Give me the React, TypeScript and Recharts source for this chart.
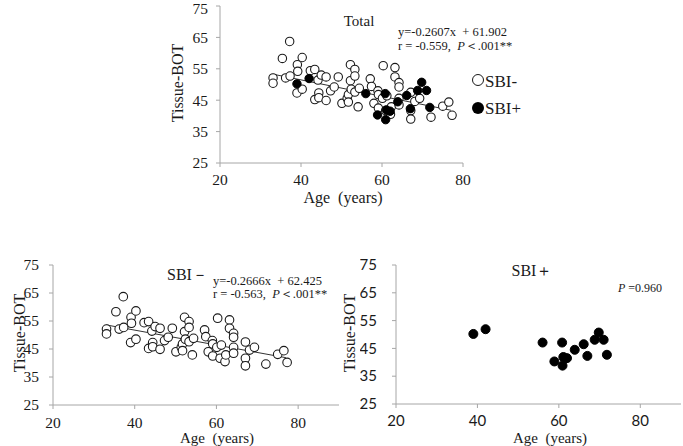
import React from 'react';
import { ScatterChart, Scatter, XAxis, YAxis } from 'recharts';

// SBI- subjects (age, tissue-BOT)
const sbiNegAge = [33.1, 33.1, 35.4, 37.2, 36.2, 37.3, 39.1, 39.2, 39.0, 40.3, 40.3, 42.3, 43.4, 43.4, 44.2, 44.4, 44.4, 45.0, 46.2, 46.2, 47.3, 48.2, 49.2, 50.1, 51.4, 51.7, 51.7, 52.2, 52.2, 52.4, 53.3, 53.3, 53.3, 54.1, 54.4, 57.1, 57.4, 58.0, 59.0, 59.1, 59.1, 60.3, 60.1, 61.2, 60.9, 62.1, 62.3, 63.2, 63.2, 64.2, 64.2, 64.2, 64.2, 67.1, 67.1, 67.1, 68.1, 69.3, 72.1, 75.0, 76.5, 77.3];
const sbiNegBot = [52.1, 50.4, 58.3, 63.7, 52.1, 52.7, 56.3, 54.2, 47.3, 58.6, 48.5, 54.4, 54.8, 45.2, 51.4, 47.3, 45.8, 53.0, 52.4, 44.9, 48.0, 49.2, 52.4, 44.0, 45.6, 46.8, 44.4, 56.3, 51.2, 48.5, 54.8, 52.7, 47.6, 42.9, 48.8, 51.8, 49.4, 44.0, 48.0, 46.8, 42.5, 56.0, 45.6, 46.4, 41.7, 40.5, 42.9, 55.4, 52.4, 50.6, 49.2, 45.6, 43.5, 47.5, 41.7, 39.0, 44.6, 45.6, 39.6, 43.1, 44.4, 40.2];

// SBI+ subjects
const sbiPosAge = [39.0, 42.0, 56.0, 58.9, 60.8, 60.9, 61.1, 62.0, 63.9, 66.1, 67.0, 68.8, 69.8, 71.0, 71.8];
const sbiPosBot = [50.2, 51.9, 47.1, 40.3, 47.1, 38.8, 41.9, 41.5, 44.5, 46.5, 42.3, 48.1, 50.7, 48.1, 42.7];

// regression line end points
const totalFitAge = [33, 77];
const totalFitBot = [53.3, 41.8];
const negFitAge = [33, 77];
const negFitBot = [53.6, 41.9];

const xTicks = [20, 40, 60, 80];
const yTicks = [25, 35, 45, 55, 65, 75];

const toPoints = (xs: number[], ys: number[]) => xs.map((x, i) => ({ age: x, bot: ys[i] }));

const negPoints = toPoints(sbiNegAge, sbiNegBot);
const posPoints = toPoints(sbiPosAge, sbiPosBot);
const totalFit = toPoints(totalFitAge, totalFitBot);
const negFit = toPoints(negFitAge, negFitBot);

const SERIF = 'Liberation Serif, Times New Roman, serif';
const SANS = 'Lato, Liberation Sans, sans-serif';
const AXIS = '#a6a6a6';
const INK = '#1a1a1a';

const openDot = (r: number) => (p: any) => (
  <circle cx={p.cx} cy={p.cy} r={r} fill="#fff" stroke={INK} strokeWidth={1.1} />
);
const solidDot = (r: number) => (p: any) => (
  <circle cx={p.cx} cy={p.cy} r={r} fill="#000" stroke="#000" strokeWidth={1} />
);
const noDot = () => <g />;

// tick text with an explicit font
function AxisTick(props: any) {
  const { x, y, payload, family, size, side } = props;
  const isX = side === 'x';
  return (
    <text
      x={x}
      y={isX ? y + size * 0.75 : y + size * 0.35}
      textAnchor={isX ? 'middle' : 'end'}
      fill={INK}
      style={{ fontFamily: family, fontSize: size }}
    >
      {payload.value}
    </text>
  );
}

function Txt({ x, y, size, children, anchor = 'start', rotate = false, family = SERIF }: any) {
  const tx = anchor === 'middle' ? '-50%' : '0';
  return (
    <div
      style={{
        position: 'absolute',
        left: x,
        top: y,
        fontFamily: family,
        fontSize: size,
        lineHeight: 1,
        whiteSpace: 'nowrap',
        color: INK,
        transform: `translate(${tx}, -50%)${rotate ? ' rotate(-90deg)' : ''}`,
      }}
    >
      {children}
    </div>
  );
}

export default function App() {
  return (
    <div style={{ position: 'absolute', left: 0, top: 0, width: 683, height: 446, background: '#fff', overflow: 'hidden' }}>
      {/* Total */}
      <div style={{ position: 'absolute', left: 0, top: 0 }}>
        <ScatterChart width={683} height={210} margin={{ top: 6, right: 220, left: 0, bottom: 0 }}>
          <XAxis
            type="number"
            dataKey="age"
            domain={[20, 80]}
            ticks={xTicks}
            height={47}
            stroke={AXIS}
            tickSize={4}
            tickMargin={6}
            tick={<AxisTick family={SERIF} size={15.5} side="x" />}
          />
          <YAxis
            type="number"
            dataKey="bot"
            domain={[25, 75]}
            ticks={yTicks}
            width={220}
            stroke={AXIS}
            tickSize={4}
            tickMargin={8}
            tick={<AxisTick family={SERIF} size={15.5} side="y" />}
          />
          <Scatter data={totalFit} line={{ stroke: '#333', strokeWidth: 1 }} shape={noDot} isAnimationActive={false} />
          <Scatter data={negPoints} shape={openDot(4.2)} isAnimationActive={false} />
          <Scatter data={posPoints} shape={solidDot(4.2)} isAnimationActive={false} />
        </ScatterChart>
      </div>

      {/* SBI- */}
      <div style={{ position: 'absolute', left: 0, top: 250 }}>
        <ScatterChart width={360} height={196} margin={{ top: 15, right: 21, left: 0, bottom: 0 }}>
          <XAxis
            type="number"
            dataKey="age"
            domain={[20, 90]}
            ticks={xTicks}
            height={41}
            stroke={AXIS}
            tickSize={4}
            tickMargin={7}
            tick={<AxisTick family={SERIF} size={15.5} side="x" />}
          />
          <YAxis
            type="number"
            dataKey="bot"
            domain={[25, 75]}
            ticks={yTicks}
            width={53}
            stroke={AXIS}
            tickSize={4}
            tickMargin={10}
            tick={<AxisTick family={SERIF} size={15.5} side="y" />}
          />
          <Scatter data={negFit} line={{ stroke: '#333', strokeWidth: 1 }} shape={noDot} isAnimationActive={false} />
          <Scatter data={negPoints} shape={openDot(4.3)} isAnimationActive={false} />
        </ScatterChart>
      </div>

      {/* SBI+ */}
      <div style={{ position: 'absolute', left: 360, top: 250 }}>
        <ScatterChart width={323} height={196} margin={{ top: 15, right: 2, left: 0, bottom: 0 }}>
          <XAxis
            type="number"
            dataKey="age"
            domain={[20, 90]}
            ticks={xTicks}
            height={42}
            stroke={AXIS}
            tickSize={4}
            tickMargin={7}
            tick={<AxisTick family={SANS} size={15} side="x" />}
          />
          <YAxis
            type="number"
            dataKey="bot"
            domain={[25, 75]}
            ticks={yTicks}
            width={36}
            stroke={AXIS}
            tickSize={4}
            tickMargin={15}
            tick={<AxisTick family={SANS} size={15} side="y" />}
          />
          <Scatter data={posPoints} shape={solidDot(4.5)} isAnimationActive={false} />
        </ScatterChart>
      </div>

      {/* texts: top chart */}
      <Txt x={359} y={21} size={15} anchor="middle">Total</Txt>
      <Txt x={398} y={32} size={12.5}>y=-0.2607x&nbsp; + 61.902</Txt>
      <Txt x={398} y={46} size={12.5}>r = -0.559,&nbsp; <i>P</i>＜.001**</Txt>
      <Txt x={178} y={83} size={16} anchor="middle" rotate>Tissue-BOT</Txt>
      <Txt x={343} y={198} size={16} anchor="middle">Age&nbsp; (years)</Txt>
      <div style={{ position: 'absolute', left: 472, top: 74, width: 12, height: 12, borderRadius: '50%', border: `1px solid ${INK}`, boxSizing: 'border-box' }} />
      <Txt x={485} y={81} size={17}>SBI-</Txt>
      <div style={{ position: 'absolute', left: 472, top: 102, width: 12, height: 12, borderRadius: '50%', background: '#000' }} />
      <Txt x={485} y={108} size={17}>SBI+</Txt>

      {/* texts: SBI- chart */}
      <Txt x={167} y={275} size={16}>SBI－</Txt>
      <Txt x={213} y={281} size={12.5}>y=-0.2666x&nbsp; + 62.425</Txt>
      <Txt x={213} y={294} size={12.5}>r = -0.563,&nbsp; <i>P</i>＜.001**</Txt>
      <Txt x={20} y={333} size={16} anchor="middle" rotate>Tissue-BOT</Txt>
      <Txt x={217} y={438} size={15} anchor="middle">Age&nbsp; (years)</Txt>

      {/* texts: SBI+ chart */}
      <Txt x={532} y={271} size={16} anchor="middle">SBI＋</Txt>
      <Txt x={618} y={288} size={12}><i>P</i> =0.960</Txt>
      <Txt x={350} y={333} size={16} anchor="middle" rotate>Tissue-BOT</Txt>
      <Txt x={550} y={438} size={15} anchor="middle">Age&nbsp; (years)</Txt>
    </div>
  );
}
